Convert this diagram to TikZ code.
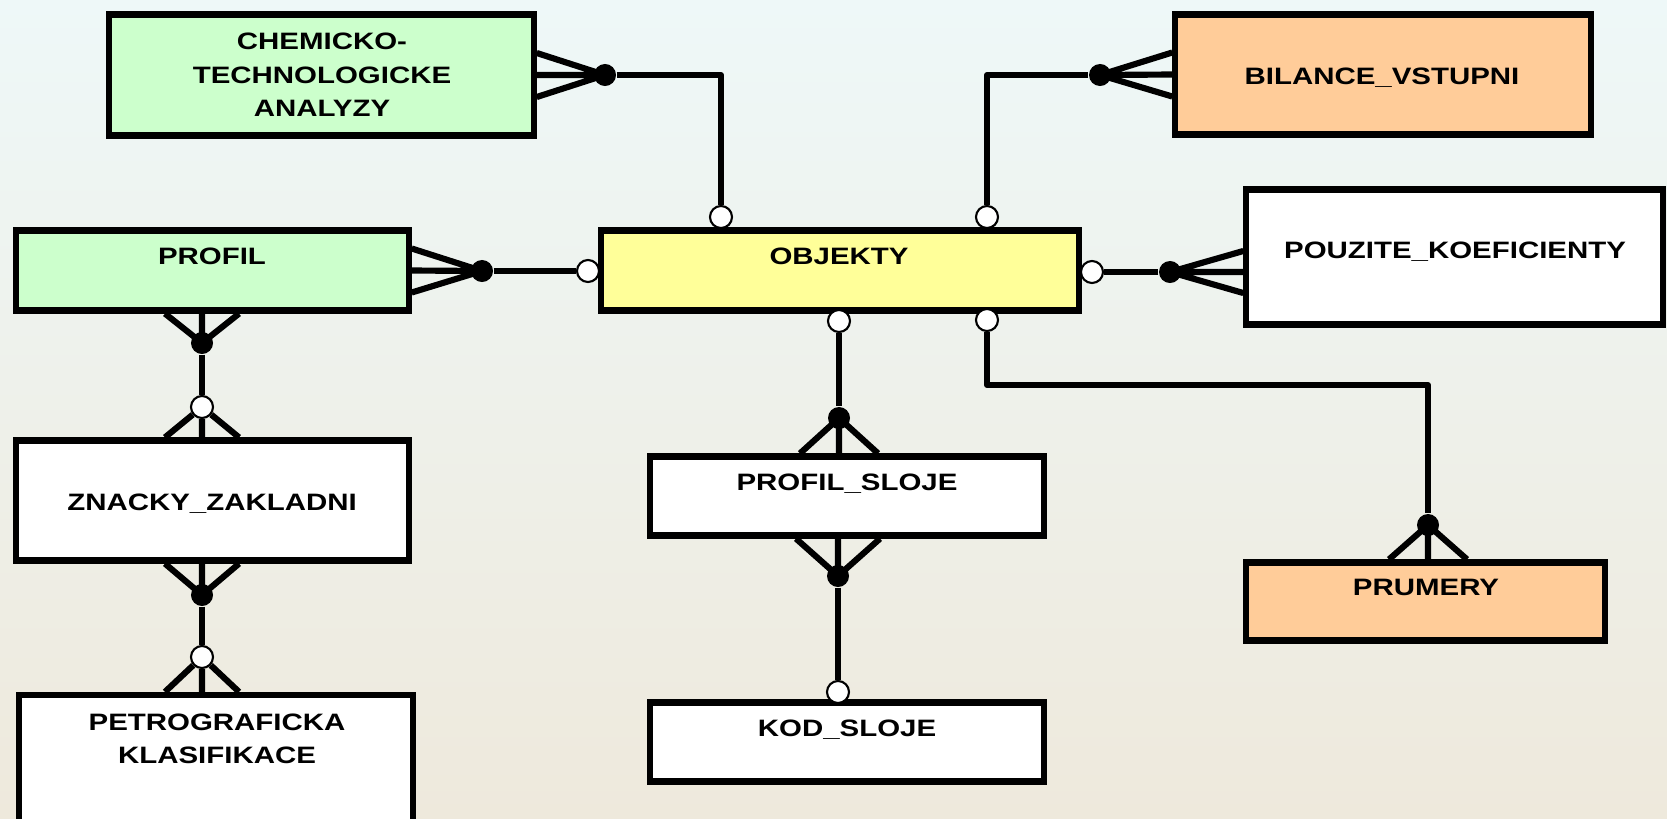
\documentclass[tikz,border=0pt]{standalone}
\usepackage{fontspec}
\setmainfont{Liberation Sans}[FakeStretch=1.24]

\definecolor{entgreen}{HTML}{CCFFCC}
\definecolor{entyellow}{HTML}{FFFF99}
\definecolor{entorange}{HTML}{FFCC99}
\definecolor{bgtop}{HTML}{EEF8F8}
\definecolor{bgmid}{HTML}{F3F3EC}
\definecolor{bgbottom}{HTML}{EEE9DC}

\tikzset{
  entity/.style={draw=black, line width=1.75pt, fill=white, inner sep=0pt},
  title/.style={font=\bfseries\fontsize{6.75}{9.5}\selectfont, inner sep=0pt},
  link/.style={line width=1.75pt, line join=round},
  one/.style={circle, fill=black, inner sep=0pt, minimum size=0.22cm},
  zero/.style={circle, draw=black, fill=white, line width=0.6pt, inner sep=0pt, minimum size=0.22cm},
}

\begin{document}
\begin{tikzpicture}[x=0.01cm, y=-0.01cm]
    \shade [top color=bgtop, middle color=bgmid, bottom color=bgbottom] (0,0) rectangle (1667,818);
    \draw [black, opacity=0.05, line width=0.6pt] (833,457) ++(180:14 and 3.32) arc (180:0:14 and 3.32);
    \useasboundingbox (0,0) rectangle (1667,818);

    % entities
    \node [entity, fill=entgreen, minimum width=4.24cm, minimum height=1.21cm] (chem) at (321.5,75) {};
    \node [entity, fill=entorange, minimum width=4.15cm, minimum height=1.2cm] (bil) at (1383,74.5) {};
    \node [entity, fill=entgreen, minimum width=3.92cm, minimum height=0.8cm] (profil) at (212.5,270.5) {};
    \node [entity, fill=entyellow, minimum width=4.77cm, minimum height=0.8cm] (objekty) at (840,270.5) {};
    \node [entity, minimum width=4.16cm, minimum height=1.35cm] (pouzite) at (1454.5,257) {};
    \node [entity, minimum width=3.92cm, minimum height=1.2cm] (znacky) at (212.5,500.5) {};
    \node [entity, minimum width=3.93cm, minimum height=0.79cm] (psloje) at (847,496) {};
    \node [entity, fill=entorange, minimum width=3.58cm, minimum height=0.78cm] (prumery) at (1425.5,601.5) {};
    \node [entity, minimum width=3.93cm, minimum height=1.5cm] (petro) at (216,770) {};
    \node [entity, minimum width=3.93cm, minimum height=0.79cm] (kod) at (847,742) {};

    \node [title, align=center] (chemtext) at (322,75) {CHEMICKO-\\TECHNOLOGICKE\\ANALYZY};
    \node [title, anchor=base] (biltext) at (1382,84) {BILANCE\_VSTUPNI};
    \node [title, anchor=base] (profiltext) at (212,264.5) {PROFIL};
    \node [title, anchor=base] (objektytext) at (839,264.5) {OBJEKTY};
    \node [title, anchor=base] (pouzitetext) at (1455,258.5) {POUZITE\_KOEFICIENTY};
    \node [title, anchor=base] (znackytext) at (212,510.5) {ZNACKY\_ZAKLADNI};
    \node [title, anchor=base] (pslojetext) at (847,490) {PROFIL\_SLOJE};
    \node [title, anchor=base] (prumerytext) at (1426,595.5) {PRUMERY};
    \node [title, align=center] (petrotext) at (217,739) {PETROGRAFICKA\\KLASIFIKACE};
    \node [title, anchor=base] (kodtext) at (847,736.5) {KOD\_SLOJE};

    % relationships
    \node [one] (d1) at (605,75) {};
    \node [zero] (c1) at (721,217) {};
    \draw [link] ([yshift=0.22cm]chem.east) -- (d1.center) -- ([yshift=-0.22cm]chem.east) (chem.east) -- (d1.center);
    \draw [link] (d1) -| (c1);

    \node [one] (d2) at (1100,75) {};
    \node [zero] (c2) at (987,217) {};
    \draw [link] ([yshift=0.22cm]bil.west) -- (d2.center) -- ([yshift=-0.22cm]bil.west) (bil.west) -- (d2.center);
    \draw [link] (d2) -| (c2);

    \node [one] (d3) at (482,271) {};
    \node [zero] (c3) at (588,271) {};
    \draw [link] ([yshift=0.22cm]profil.east) -- (d3.center) -- ([yshift=-0.22cm]profil.east) (profil.east) -- (d3.center);
    \draw [link] (d3) -- (c3);

    \node [one] (d4) at (1170,272) {};
    \node [zero] (c4) at (1092,272) {};
    \draw [link] ([yshift=0.21cm]pouzite.west |- d4) -- (d4.center) -- ([yshift=-0.21cm]pouzite.west |- d4) (pouzite.west |- d4) -- (d4.center);
    \draw [link] (d4) -- (c4);

    \node [zero] (c5) at (839,321) {};
    \node [one] (d5) at (839,418) {};
    \draw [link] ([xshift=-0.39cm]d5 |- psloje.north) -- (d5.center) -- ([xshift=0.39cm]d5 |- psloje.north) (d5 |- psloje.north) -- (d5.center);
    \draw [link] (c5) -- (d5);

    \node [zero] (c6) at (987,320) {};
    \coordinate (k6) at (1428,385);
    \node [one] (d6) at (1428,525) {};
    \draw [link] ([xshift=-0.39cm]d6 |- prumery.north) -- (d6.center) -- ([xshift=0.39cm]d6 |- prumery.north) (d6 |- prumery.north) -- (d6.center);
    \draw [link] (c6) |- (k6) -- (d6);

    \node [one] (d7) at (202,343) {};
    \node [zero] (c7) at (202,407) {};
    \draw [link] ([xshift=-0.37cm]d7 |- profil.south) -- (d7.center) -- ([xshift=0.37cm]d7 |- profil.south) (d7 |- profil.south) -- (d7.center);
    \draw [link] (d7) -- (c7);
    \draw [link] (c7) -- ([xshift=-0.37cm]c7 |- znacky.north) (c7) -- ([xshift=0.37cm]c7 |- znacky.north) (c7) -- (c7 |- znacky.north);

    \node [one] (d8) at (202,595) {};
    \node [zero] (c8) at (202,657) {};
    \draw [link] ([xshift=-0.37cm]d8 |- znacky.south) -- (d8.center) -- ([xshift=0.37cm]d8 |- znacky.south) (d8 |- znacky.south) -- (d8.center);
    \draw [link] (d8) -- (c8);
    \draw [link] (c8) -- ([xshift=-0.37cm]c8 |- petro.north) (c8) -- ([xshift=0.37cm]c8 |- petro.north) (c8) -- (c8 |- petro.north);

    \node [one] (d9) at (838,576) {};
    \node [zero] (c9) at (838,692) {};
    \draw [link] ([xshift=-0.42cm]d9 |- psloje.south) -- (d9.center) -- ([xshift=0.42cm]d9 |- psloje.south) (d9 |- psloje.south) -- (d9.center);
    \draw [link] (d9) -- (c9);
\end{tikzpicture}
\end{document}
